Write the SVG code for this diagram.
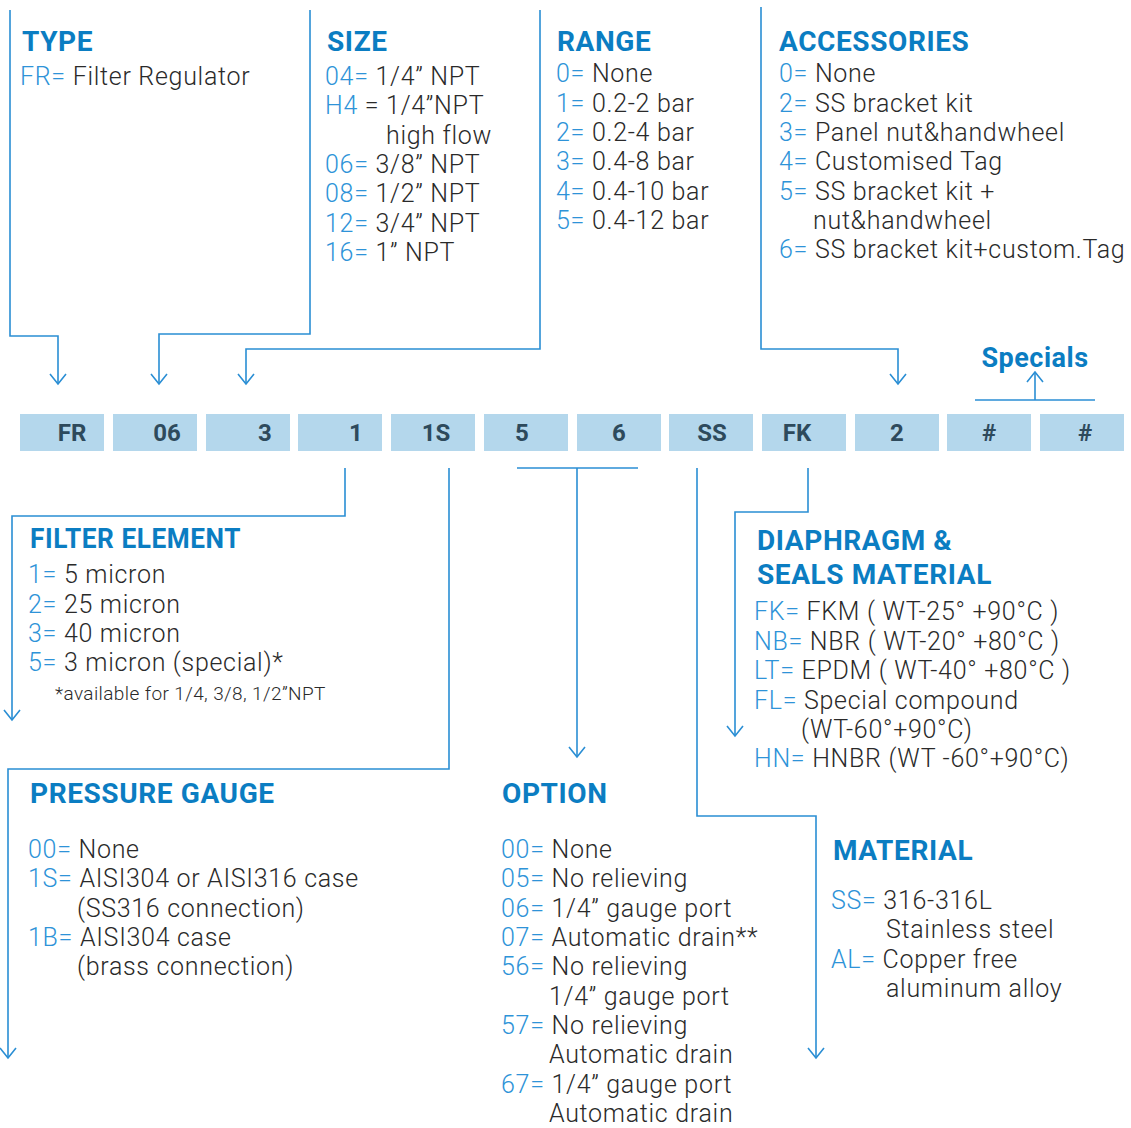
<svg xmlns="http://www.w3.org/2000/svg" width="1131" height="1128" viewBox="0 0 1131 1128">
<defs>
<style>
text{font-family:Roboto,"Liberation Sans",sans-serif}
.h{font-size:28px;font-weight:700;fill:#0b7dc2;letter-spacing:0.6px}
.t{font-size:25px;font-weight:300;fill:#2a2a2a;letter-spacing:0.7px}
.k{fill:#2e93d8}
.s{font-size:19px;font-weight:300;fill:#2a2a2a;letter-spacing:0.4px}
.box{fill:#b4d7ec}
.bt{font-size:24px;font-weight:700;fill:#2e4a5c;text-anchor:middle}
.ln{fill:none;stroke:#2a8ed4;stroke-width:1.6}
</style>
<marker id="arr" viewBox="-12 -10 14 20" refX="0" refY="0" markerWidth="14" markerHeight="20" markerUnits="userSpaceOnUse" orient="auto">
<path d="M-10,-8 L0,0 L-10,8" fill="none" stroke="#2a8ed4" stroke-width="1.6"/>
</marker>
</defs>
<rect width="1131" height="1128" fill="#ffffff"/>

<g id="connectors">
<path class="ln" d="M10,10 V336 H58 V384" marker-end="url(#arr)"/>
<path class="ln" d="M310,10 V334 H159 V384" marker-end="url(#arr)"/>
<path class="ln" d="M540,10 V349 H246 V384" marker-end="url(#arr)"/>
<path class="ln" d="M761,7 V349 H898 V384" marker-end="url(#arr)"/>
<path class="ln" d="M975,400 H1095"/>
<path class="ln" d="M1035,400 V372" marker-end="url(#arr)"/>
<path class="ln" d="M345,468 V516 H12 V720" marker-end="url(#arr)"/>
<path class="ln" d="M449,468 V769 H8 V1058" marker-end="url(#arr)"/>
<path class="ln" d="M517,468 H638"/>
<path class="ln" d="M577,468 V757" marker-end="url(#arr)"/>
<path class="ln" d="M697,468 V816 H816 V1058" marker-end="url(#arr)"/>
<path class="ln" d="M808,468 V512 H735 V736" marker-end="url(#arr)"/>
</g>

<g id="code-bar">
<rect class="box" x="20" y="414" width="84" height="37"/>
<rect class="box" x="113" y="414" width="84" height="37"/>
<rect class="box" x="206" y="414" width="84" height="37"/>
<rect class="box" x="298" y="414" width="84" height="37"/>
<rect class="box" x="391" y="414" width="84" height="37"/>
<rect class="box" x="484" y="414" width="84" height="37"/>
<rect class="box" x="577" y="414" width="84" height="37"/>
<rect class="box" x="669" y="414" width="84" height="37"/>
<rect class="box" x="762" y="414" width="84" height="37"/>
<rect class="box" x="855" y="414" width="84" height="37"/>
<rect class="box" x="947" y="414" width="84" height="37"/>
<rect class="box" x="1040" y="414" width="84" height="37"/>
<text class="bt" x="72" y="441">FR</text>
<text class="bt" x="167" y="441">06</text>
<text class="bt" x="265" y="441">3</text>
<text class="bt" x="356" y="441">1</text>
<text class="bt" x="436" y="441">1S</text>
<text class="bt" x="522" y="441">5</text>
<text class="bt" x="619" y="441">6</text>
<text class="bt" x="712" y="441">SS</text>
<text class="bt" x="797" y="441">FK</text>
<text class="bt" x="897" y="441">2</text>
<text class="bt" x="989" y="441">#</text>
<text class="bt" x="1085" y="441">#</text>
</g>

<g id="type">
<text class="h" x="22" y="51">TYPE</text>
<text class="t" x="20" y="85"><tspan class="k">FR=</tspan> Filter Regulator</text>
</g>

<g id="size">
<text class="h" x="327" y="51">SIZE</text>
<text class="t" x="325" y="85"><tspan class="k">04=</tspan> 1/4” NPT</text>
<text class="t" x="325" y="114"><tspan class="k">H4</tspan> = 1/4”NPT</text>
<text class="t" x="386" y="144">high flow</text>
<text class="t" x="325" y="173"><tspan class="k">06=</tspan> 3/8” NPT</text>
<text class="t" x="325" y="202"><tspan class="k">08=</tspan> 1/2” NPT</text>
<text class="t" x="325" y="232"><tspan class="k">12=</tspan> 3/4” NPT</text>
<text class="t" x="325" y="261"><tspan class="k">16=</tspan> 1” NPT</text>
</g>

<g id="range">
<text class="h" x="557" y="51">RANGE</text>
<text class="t" x="556" y="82"><tspan class="k">0=</tspan> None</text>
<text class="t" x="556" y="112"><tspan class="k">1=</tspan> 0.2-2 bar</text>
<text class="t" x="556" y="141"><tspan class="k">2=</tspan> 0.2-4 bar</text>
<text class="t" x="556" y="170"><tspan class="k">3=</tspan> 0.4-8 bar</text>
<text class="t" x="556" y="200"><tspan class="k">4=</tspan> 0.4-10 bar</text>
<text class="t" x="556" y="229"><tspan class="k">5=</tspan> 0.4-12 bar</text>
</g>

<g id="accessories">
<text class="h" x="779" y="51">ACCESSORIES</text>
<text class="t" x="779" y="82"><tspan class="k">0=</tspan> None</text>
<text class="t" x="779" y="112"><tspan class="k">2=</tspan> SS bracket kit</text>
<text class="t" x="779" y="141"><tspan class="k">3=</tspan> Panel nut&amp;handwheel</text>
<text class="t" x="779" y="170"><tspan class="k">4=</tspan> Customised Tag</text>
<text class="t" x="779" y="200"><tspan class="k">5=</tspan> SS bracket kit +</text>
<text class="t" x="813" y="229">nut&amp;handwheel</text>
<text class="t" x="779" y="258"><tspan class="k">6=</tspan> SS bracket kit+custom.Tag</text>
</g>

<g id="specials">
<text class="h" x="1035" y="367" text-anchor="middle" style="font-size:27px;letter-spacing:0.5px">Specials</text>
</g>

<g id="filter-element">
<text class="h" x="30" y="548" textLength="211" lengthAdjust="spacingAndGlyphs">FILTER ELEMENT</text>
<text class="t" x="28" y="583"><tspan class="k">1=</tspan> 5 micron</text>
<text class="t" x="28" y="613"><tspan class="k">2=</tspan> 25 micron</text>
<text class="t" x="28" y="642"><tspan class="k">3=</tspan> 40 micron</text>
<text class="t" x="28" y="671"><tspan class="k">5=</tspan> 3 micron (special)*</text>
<text class="s" x="55" y="700">*available for 1/4, 3/8, 1/2”NPT</text>
</g>

<g id="diaphragm">
<text class="h" x="757" y="550">DIAPHRAGM &amp;</text>
<text class="h" x="757" y="584">SEALS MATERIAL</text>
<text class="t" x="754" y="620"><tspan class="k">FK=</tspan> FKM ( WT-25° +90°C )</text>
<text class="t" x="754" y="650"><tspan class="k">NB=</tspan> NBR ( WT-20° +80°C )</text>
<text class="t" x="754" y="679"><tspan class="k">LT=</tspan> EPDM ( WT-40° +80°C )</text>
<text class="t" x="754" y="709"><tspan class="k">FL=</tspan> Special compound</text>
<text class="t" x="801" y="738">(WT-60°+90°C)</text>
<text class="t" x="754" y="767"><tspan class="k">HN=</tspan> HNBR (WT -60°+90°C)</text>
</g>

<g id="pressure-gauge">
<text class="h" x="30" y="803">PRESSURE GAUGE</text>
<text class="t" x="28" y="858"><tspan class="k">00=</tspan> None</text>
<text class="t" x="28" y="887"><tspan class="k">1S=</tspan> AISI304 or AISI316 case</text>
<text class="t" x="77" y="917">(SS316 connection)</text>
<text class="t" x="28" y="946"><tspan class="k">1B=</tspan> AISI304 case</text>
<text class="t" x="77" y="975">(brass connection)</text>
</g>

<g id="option">
<text class="h" x="502" y="803">OPTION</text>
<text class="t" x="501" y="858"><tspan class="k">00=</tspan> None</text>
<text class="t" x="501" y="887"><tspan class="k">05=</tspan> No relieving</text>
<text class="t" x="501" y="917"><tspan class="k">06=</tspan> 1/4” gauge port</text>
<text class="t" x="501" y="946"><tspan class="k">07=</tspan> Automatic drain**</text>
<text class="t" x="501" y="975"><tspan class="k">56=</tspan> No relieving</text>
<text class="t" x="549" y="1005">1/4” gauge port</text>
<text class="t" x="501" y="1034"><tspan class="k">57=</tspan> No relieving</text>
<text class="t" x="549" y="1063">Automatic drain</text>
<text class="t" x="501" y="1093"><tspan class="k">67=</tspan> 1/4” gauge port</text>
<text class="t" x="549" y="1122">Automatic drain</text>
</g>

<g id="material">
<text class="h" x="833" y="860">MATERIAL</text>
<text class="t" x="831" y="909"><tspan class="k">SS=</tspan> 316-316L</text>
<text class="t" x="886" y="938">Stainless steel</text>
<text class="t" x="831" y="968"><tspan class="k">AL=</tspan> Copper free</text>
<text class="t" x="886" y="997">aluminum alloy</text>
</g>
</svg>
